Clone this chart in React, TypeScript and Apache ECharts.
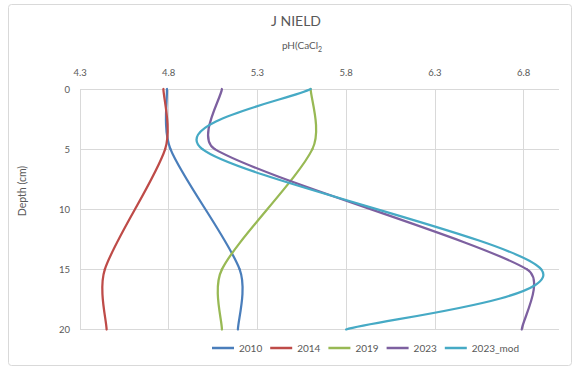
import React, { useEffect, useRef } from "react";
import * as echarts from "echarts";

// Sampling depths (cm) and soil pH(CaCl2) for each survey year
const depths = [0, 5, 15, 20];
const ph2010 = [4.79, 4.81, 5.2, 5.19];
const ph2014 = [4.77, 4.78, 4.44, 4.45];
const ph2019 = [5.6, 5.61, 5.1, 5.1];
const ph2023 = [5.1, 5.06, 6.82, 6.79];
const ph2023mod = [5.6, 4.99, 6.9, 5.8];

const seriesNames = ["2010", "2014", "2019", "2023", "2023_mod"];
const seriesValues = [ph2010, ph2014, ph2019, ph2023, ph2023mod];
const seriesColors = ["#4A7EBB", "#BE4B48", "#98B954", "#7D60A0", "#46AAC5"];

const phMin = 4.3;
const phMax = 7.0;
const phStep = 0.5;
const depthMin = 0;
const depthMax = 20;
const depthStep = 5;

const FONT = "Lato, 'Open Sans', sans-serif";
const TEXT = "#595959";
const GRID = "#d9d9d9";

type Pt = number[];

const dist = (a: Pt, b: Pt) => Math.hypot(b[0] - a[0], b[1] - a[1]);

// Handle of length |next - prev| / 6 along the tangent, capped relative to
// the length of the segment it sits on so short segments do not overshoot.
const handle = (from: Pt, dir: Pt, segLen: number, sign: number): Pt => {
  let dx = dir[0] / 6;
  let dy = dir[1] / 6;
  const len = Math.hypot(dx, dy);
  const cap = 0.35 * segLen;
  if (len > cap && len > 0) {
    dx *= cap / len;
    dy *= cap / len;
  }
  return [from[0] + sign * dx, from[1] + sign * dy];
};

// Smooth scatter-line segment between data points i and i + 1
const makeRenderItem = (color: string) => (params: any, api: any) => {
  const i = params.dataIndexInside;
  const n = params.dataInsideLength;
  if (i >= n - 1) return null;
  const pt = (k: number): Pt => api.coord([api.value(0, k), api.value(1, k)]);
  const p0 = pt(Math.max(i - 1, 0));
  const p1 = pt(i);
  const p2 = pt(i + 1);
  const p3 = pt(Math.min(i + 2, n - 1));
  const l12 = dist(p1, p2);
  const cp1 = handle(p1, [p2[0] - p0[0], p2[1] - p0[1]], l12, 1);
  const cp2 = handle(p2, [p3[0] - p1[0], p3[1] - p1[1]], l12, -1);
  return {
    type: "bezierCurve",
    shape: {
      x1: p1[0],
      y1: p1[1],
      x2: p2[0],
      y2: p2[1],
      cpx1: cp1[0],
      cpy1: cp1[1],
      cpx2: cp2[0],
      cpy2: cp2[1],
    },
    style: { stroke: color, lineWidth: 2.25, fill: "none", lineCap: "round" },
  };
};

export default function App() {
  const ref = useRef<HTMLDivElement>(null);

  useEffect(() => {
    if (!ref.current) return;
    const chart = echarts.init(ref.current, undefined, { renderer: "svg" });

    const series = seriesNames.map((name, s) => ({
      name,
      type: "custom",
      renderItem: makeRenderItem(seriesColors[s]),
      itemStyle: { color: seriesColors[s] },
      encode: { x: 0, y: 1 },
      data: depths.map((d, k) => [seriesValues[s][k], d]),
      clip: false,
      z: 3,
    }));

    chart.setOption({
      animation: false,
      backgroundColor: "#ffffff",
      textStyle: { fontFamily: FONT },
      grid: { left: 80, right: 16, top: 89, bottom: 40.5 },
      graphic: [
        {
          type: "rect",
          shape: { x: 8.5, y: 4.5, width: 563, height: 361, r: 3 },
          style: { fill: "none", stroke: GRID, lineWidth: 1 },
          silent: true,
        },
        {
          type: "text",
          x: 296,
          y: 20,
          style: {
            text: "J NIELD",
            fill: TEXT,
            font: `14px ${FONT}`,
            align: "center",
            verticalAlign: "middle",
          },
        },
        {
          type: "text",
          x: 302,
          y: 45,
          style: {
            text: "{a|pH(CaCl}{b|2}",
            align: "center",
            verticalAlign: "middle",
            rich: {
              a: { fill: TEXT, fontSize: 10, fontFamily: FONT, lineHeight: 14, verticalAlign: "middle" },
              b: { fill: TEXT, fontSize: 7, fontFamily: FONT, lineHeight: 14, verticalAlign: "bottom" },
            },
          },
        },
        {
          type: "text",
          x: 22,
          y: 191,
          rotation: Math.PI / 2,
          style: {
            text: "Depth (cm)",
            fill: TEXT,
            font: `10.5px ${FONT}`,
            align: "center",
            verticalAlign: "middle",
          },
        },
      ],
      legend: {
        data: seriesNames,
        left: 207,
        top: 338,
        icon: "rect",
        itemWidth: 22,
        itemHeight: 2.5,
        itemGap: 8,
        textStyle: { fontSize: 10, color: TEXT, fontFamily: FONT },
      },
      xAxis: {
        type: "value",
        position: "top",
        min: phMin,
        max: phMax,
        interval: phStep,
        axisLine: { show: false },
        axisTick: { show: false },
        axisLabel: {
          color: TEXT,
          fontSize: 9.5,
          margin: 12,
          showMaxLabel: false,
          formatter: (v: number) => v.toFixed(1),
        },
        splitLine: {
          show: true,
          showMinLine: true,
          showMaxLine: false,
          lineStyle: { color: GRID, width: 1 },
        },
      },
      yAxis: {
        type: "value",
        inverse: true,
        min: depthMin,
        max: depthMax,
        interval: depthStep,
        axisLine: { show: false },
        axisTick: { show: false },
        axisLabel: { color: TEXT, fontSize: 9.5, margin: 10 },
        splitLine: {
          show: true,
          showMinLine: true,
          showMaxLine: true,
          lineStyle: { color: GRID, width: 1 },
        },
      },
      series,
    });

    return () => chart.dispose();
  }, []);

  return (
    <div
      ref={ref}
      style={{ position: "fixed", left: 0, top: 0, width: 575, height: 370, background: "#fff" }}
    />
  );
}
